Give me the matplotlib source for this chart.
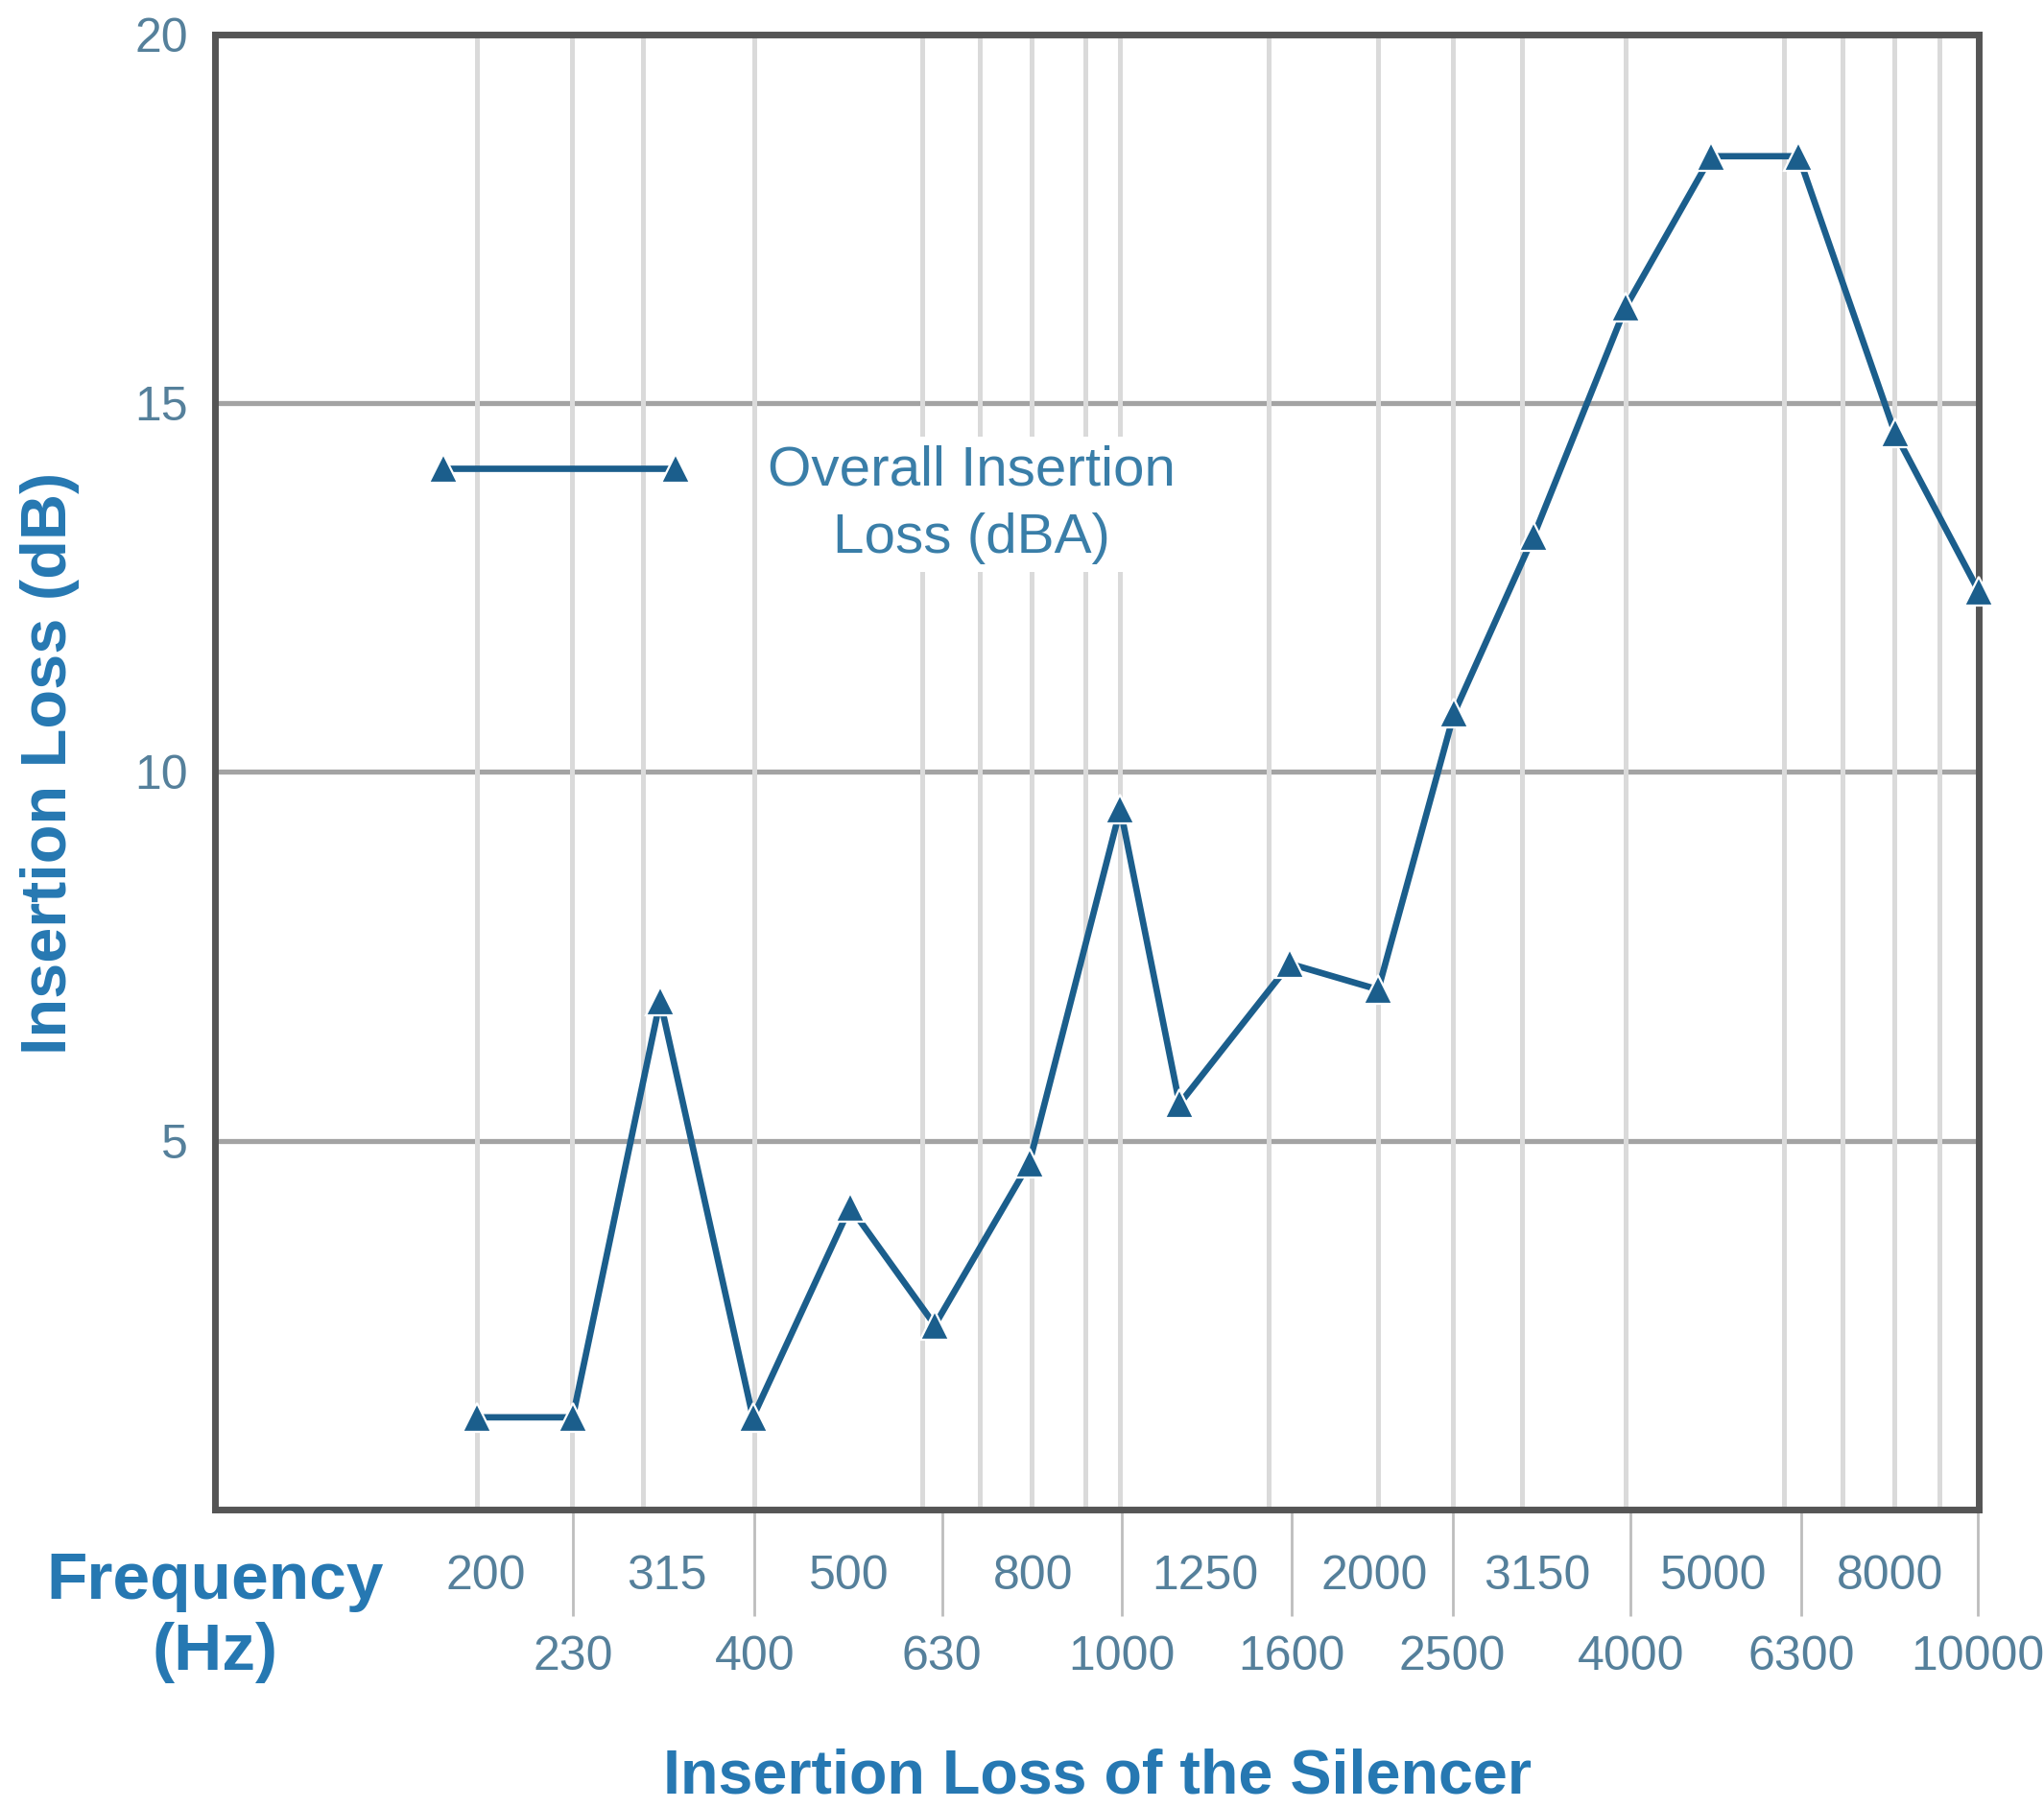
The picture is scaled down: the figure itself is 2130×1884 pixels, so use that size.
import matplotlib
matplotlib.use('Agg')
import matplotlib.pyplot as plt

# 1/3 octave bands as printed on the chart
freq_labels = ['200', '230', '315', '400', '500', '630', '800', '1000', '1250',
               '1600', '2000', '2500', '3150', '4000', '5000', '6300', '8000', '10000']
# where each band sits along the (slightly uneven) frequency axis
band_pos = [0, 1.08, 2.07, 3.12, 4.22, 5.18, 6.25, 7.28, 7.95,
            9.2, 10.2, 11.06, 11.96, 13.0, 13.97, 14.96, 16.05, 17.0]
insertion_loss = [1.25, 1.25, 6.9, 1.25, 4.1, 2.5, 4.7, 9.5, 5.5,
                  7.4, 7.05, 10.8, 13.2, 16.3, 18.35, 18.35, 14.6, 12.45]
y_ticks = [5, 10, 15, 20]

# layout: where the frequency labels are printed, and the paper-style vertical rules
label_x = [0.1, 1.08, 2.14, 3.14, 4.21, 5.26, 6.29, 7.3, 8.24,
           9.22, 10.16, 11.04, 12.0, 13.06, 14.0, 14.99, 15.99, 16.99]
rule_x = [0, 1.075, 1.88, 3.14, 4.21, 5.04, 5.69, 6.28, 6.88, 7.28, 8.96,
          10.2, 11.05, 11.83, 13.0, 14.0, 14.79, 15.46, 16.04, 16.55]

plt.rcParams['font.family'] = ['Liberation Sans', 'DejaVu Sans']

line_col = '#1b5e8c'
label_col = '#2678b2'
tick_col = '#55809b'

fig = plt.figure(figsize=(21.3, 18.84), dpi=100)
ax = fig.add_axes([0.1052, 0.1651, 0.8629, 0.8158])

ax.plot(band_pos, insertion_loss, color=line_col, lw=4.8, marker='^', markersize=22,
        markerfacecolor=line_col, markeredgecolor='white', markeredgewidth=1.6,
        label='Overall Insertion\nLoss (dBA)', zorder=3, clip_on=False)

ax.set_xlim(-2.97, 17)
ax.set_ylim(0, 20)

# y axis
ax.set_yticks(y_ticks)
ax.tick_params(axis='y', length=0, pad=20, labelsize=36, labelcolor=tick_col)
ax.grid(axis='y', color='#a3a3a3', lw=3.8)

# x axis: top row labels on major ticks, vertical rules on minor ticks
even = list(range(0, len(freq_labels), 2))
odd = list(range(1, len(freq_labels), 2))
ax.set_xticks([label_x[i] for i in even], [freq_labels[i] for i in even])
ax.tick_params(axis='x', which='major', length=0, pad=34, labelsize=36, labelcolor=tick_col)
ax.set_xticks(rule_x, minor=True)
ax.tick_params(axis='x', which='minor', length=0)
ax.grid(axis='x', which='minor', color='#dadada', lw=3.6)
ax.set_axisbelow(True)
ax.yaxis.set_zorder(0.4)

# bottom row labels with long separator ticks
sec = ax.secondary_xaxis('bottom')
sec.set_xticks([label_x[i] for i in odd], [freq_labels[i] for i in odd])
sec.tick_params(length=80, width=2, color='#bdbdbd', pad=14, labelsize=36, labelcolor=tick_col)
sec.spines['bottom'].set_visible(False)

for s in ax.spines.values():
    s.set_color('#555555')
    s.set_linewidth(5)

ax.set_ylabel('Insertion Loss (dB)', fontsize=48, fontweight='bold', color=label_col)
ax.yaxis.set_label_coords(-0.077, 0.506)
ax.set_xlabel('Insertion Loss of the Silencer', fontsize=46.5, fontweight='bold', color=label_col)
ax.xaxis.set_label_coords(0.5, -0.1815)
ax.xaxis.label.set_va('center')

ax.text(0.0, -0.073, 'Frequency\n(Hz)', transform=ax.transAxes, ha='center', va='center',
        multialignment='center', fontsize=50, fontweight='bold', color=label_col, linespacing=1.2)

leg = ax.legend(loc='upper left', bbox_to_anchor=(0.12, 0.722), frameon=False,
                numpoints=2, handlelength=4.75, handleheight=1.2, handletextpad=1.34,
                borderpad=0, borderaxespad=0, fontsize=42, labelcolor='#3a7ea8')
for col in leg._legend_handle_box.get_children():
    for row in col.get_children():
        row.align = 'top'
for t in leg.get_texts():
    t.set_multialignment('center')
    t.set_linespacing(1.4)
    t.set_bbox(dict(facecolor='white', edgecolor='none', pad=6))

fig.savefig('out.png', dpi=100, facecolor='white')
